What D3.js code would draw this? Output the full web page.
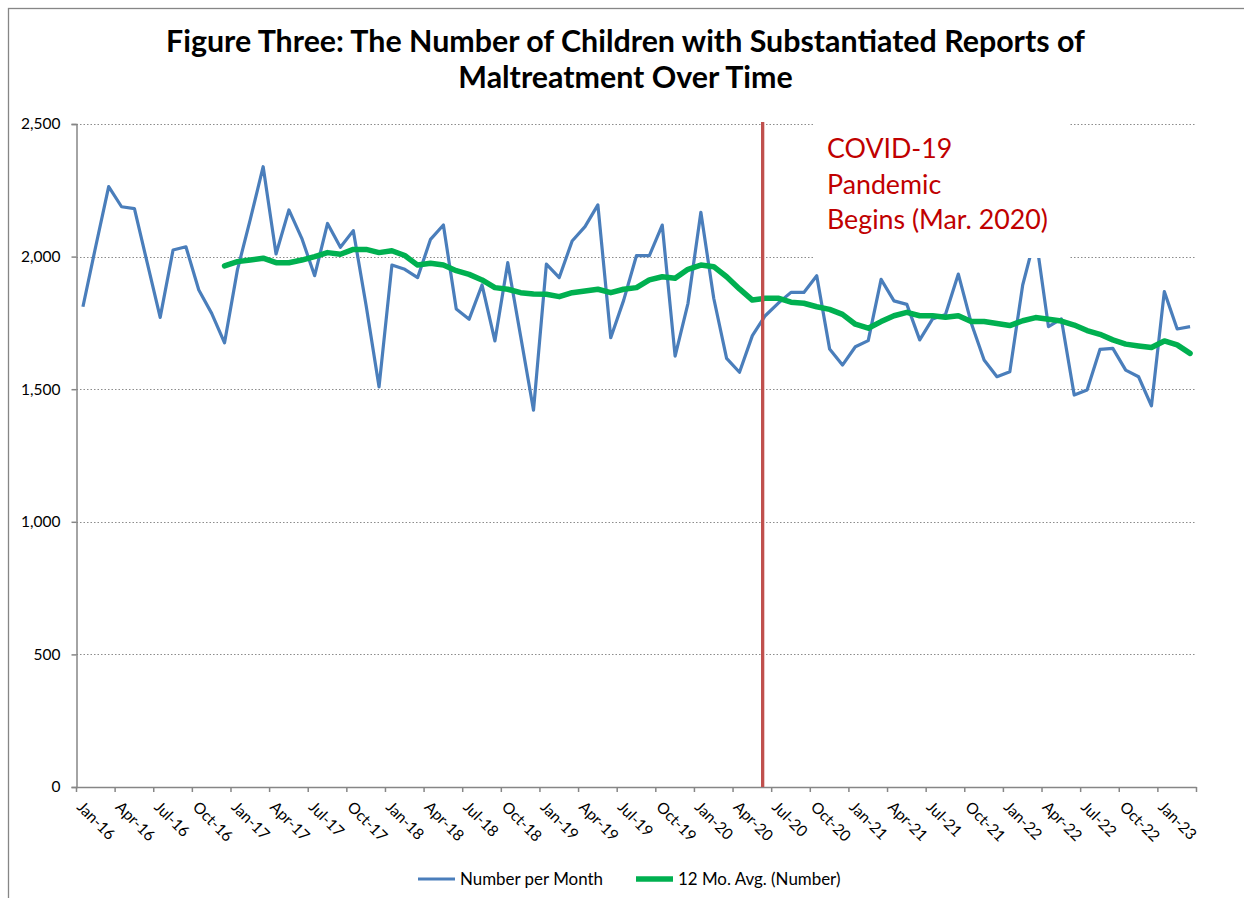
<!DOCTYPE html>
<html>
<head>
<meta charset="utf-8">
<script src="https://cdn.jsdelivr.net/npm/d3@7/dist/d3.min.js"></script>
<style>
  html, body { margin: 0; padding: 0; background: #fff; }
  svg { display: block; }
  text { font-family: "Lato", "Open Sans", "Noto Sans", sans-serif; }
</style>
</head>
<body>
<svg id="chart" width="1244" height="898"></svg>
<script>
// ---------------- data ----------------
const months = [
  "Jan-16","Feb-16","Mar-16","Apr-16","May-16","Jun-16","Jul-16","Aug-16","Sep-16","Oct-16","Nov-16","Dec-16",
  "Jan-17","Feb-17","Mar-17","Apr-17","May-17","Jun-17","Jul-17","Aug-17","Sep-17","Oct-17","Nov-17","Dec-17",
  "Jan-18","Feb-18","Mar-18","Apr-18","May-18","Jun-18","Jul-18","Aug-18","Sep-18","Oct-18","Nov-18","Dec-18",
  "Jan-19","Feb-19","Mar-19","Apr-19","May-19","Jun-19","Jul-19","Aug-19","Sep-19","Oct-19","Nov-19","Dec-19",
  "Jan-20","Feb-20","Mar-20","Apr-20","May-20","Jun-20","Jul-20","Aug-20","Sep-20","Oct-20","Nov-20","Dec-20",
  "Jan-21","Feb-21","Mar-21","Apr-21","May-21","Jun-21","Jul-21","Aug-21","Sep-21","Oct-21","Nov-21","Dec-21",
  "Jan-22","Feb-22","Mar-22","Apr-22","May-22","Jun-22","Jul-22","Aug-22","Sep-22","Oct-22","Nov-22","Dec-22",
  "Jan-23","Feb-23","Mar-23"
];

const numberPerMonth = [
  1811, 2040, 2264, 2188, 2181, 1975, 1771, 2025, 2037, 1874, 1786, 1675,
  1950, 2140, 2339, 2010, 2176, 2069, 1928, 2125, 2035, 2098, 1815, 1509,
  1968, 1952, 1921, 2065, 2119, 1802, 1764, 1893, 1682, 1977, 1700, 1421,
  1972, 1921, 2059, 2113, 2195, 1694, 1835, 2004, 2004, 2119, 1625, 1824,
  2167, 1843, 1616, 1564, 1702, 1777, 1824, 1865, 1865, 1928, 1652, 1591,
  1660, 1683, 1914, 1833, 1820, 1686, 1765, 1782, 1934, 1750, 1610, 1547,
  1566, 1893, 2080, 1736, 1765, 1478, 1497, 1650, 1654, 1572, 1547, 1437,
  1868, 1727, 1736
];

// 12-month average (first value available for Dec-16)
const twelveMoAvg = [
  null, null, null, null, null, null, null, null, null, null, null, 1965,
  1981, 1987, 1994, 1977, 1977, 1987, 2000, 2015, 2009, 2027, 2027, 2015,
  2022, 2004, 1968, 1975, 1968, 1947, 1933, 1912, 1883, 1877, 1864, 1859,
  1858, 1849, 1864, 1870, 1877, 1864, 1877, 1883, 1912, 1924, 1918, 1952,
  1968, 1962, 1924, 1878, 1836, 1843, 1843, 1828, 1824, 1811, 1801, 1782,
  1745, 1730, 1755, 1777, 1790, 1777, 1777, 1771, 1777, 1755, 1755, 1748,
  1740, 1758, 1770, 1764, 1757, 1742, 1721, 1707, 1686, 1670, 1663, 1657,
  1682, 1667, 1635
];

const yTicks = [0, 500, 1000, 1500, 2000, 2500];
const titleLines = ["Figure Three: The Number of Children with Substantiated Reports of", "Maltreatment Over Time"];
const annotationLines = ["COVID-19", "Pandemic", "Begins (Mar. 2020)"];
const seriesNames = ["Number per Month", "12 Mo. Avg. (Number)"];
const covidMarkerBand = 53.3; // position in category-band units

// ---------------- layout ----------------
const svg = d3.select("#chart");
const W = 1244, H = 898;
const plot = { left: 76.5, right: 1196.5, top: 124, bottom: 787 };
const axisColor = "#868686";
const blue = "#4A7EBB", green = "#00B050", red = "#C0504D", annoRed = "#C00000";

svg.append("rect").attr("width", W).attr("height", H).attr("fill", "#fff");
// chart outer frame
svg.append("rect").attr("x", 8.5).attr("y", 8.5).attr("width", W + 20).attr("height", H + 20)
  .attr("fill", "none").attr("stroke", axisColor).attr("stroke-width", 1.3);

const x = d3.scaleBand().domain(months).range([plot.left, plot.right]).padding(0);
const bw = x.bandwidth();
const cx = m => x(m) + bw / 2;
const y = d3.scaleLinear().domain([0, 2500]).range([plot.bottom, plot.top]);

function fitText(sel, targetW) {
  const node = sel.node();
  const fs = parseFloat(sel.attr("font-size"));
  const w = node.getComputedTextLength();
  if (w > 0) sel.attr("font-size", (fs * targetW / w).toFixed(2));
}

// gridlines
svg.append("g").selectAll("line").data(yTicks.filter(d => d > 0)).join("line")
  .attr("x1", plot.left).attr("x2", plot.right)
  .attr("y1", d => Math.round(y(d)) + 0.5).attr("y2", d => Math.round(y(d)) + 0.5)
  .attr("stroke", "#8c8c8c").attr("stroke-width", 1.2).attr("stroke-dasharray", "1.5,2");

// y axis
const yAxis = d3.axisLeft(y).tickValues(yTicks).tickSize(5).tickPadding(11)
  .tickFormat(d3.format(","));
const gy = svg.append("g").attr("transform", `translate(${plot.left},0)`).call(yAxis);
gy.select(".domain").attr("stroke", axisColor).attr("stroke-width", 1.5);
gy.selectAll(".tick line").attr("stroke", axisColor).attr("stroke-width", 1.5);
gy.selectAll(".tick text").attr("font-size", 15.5).attr("fill", "#000")
  .style("font-family", "Lato, sans-serif");

// x axis: ticks at category boundaries every 3 months
const tickIdx = d3.range(0, months.length + 1, 3);
const gx = svg.append("g");
gx.append("line").attr("x1", plot.left).attr("x2", plot.right)
  .attr("y1", plot.bottom + 0.5).attr("y2", plot.bottom + 0.5)
  .attr("stroke", axisColor).attr("stroke-width", 1.5);
gx.selectAll("line.tk").data(tickIdx).join("line").attr("class", "tk")
  .attr("x1", i => plot.left + i * bw).attr("x2", i => plot.left + i * bw)
  .attr("y1", plot.bottom).attr("y2", plot.bottom + 5)
  .attr("stroke", axisColor).attr("stroke-width", 1.5);
const labelMonths = months.filter((m, i) => i % 3 === 0);
gx.selectAll("text").data(labelMonths).join("text")
  .attr("transform", m => `translate(${cx(m) - 7},${plot.bottom + 21}) rotate(45)`)
  .attr("font-size", 15.5).attr("fill", "#000").text(m => m);

// lines
const lineGen = d3.line().defined(d => d.v != null).x(d => cx(d.m)).y(d => y(d.v));
svg.append("path")
  .datum(months.map((m, i) => ({ m, v: numberPerMonth[i] })))
  .attr("d", lineGen).attr("fill", "none").attr("stroke", blue)
  .attr("stroke-width", 3.2).attr("stroke-linejoin", "round");
svg.append("path")
  .datum(months.map((m, i) => ({ m, v: twelveMoAvg[i] })))
  .attr("d", lineGen).attr("fill", "none").attr("stroke", green)
  .attr("stroke-width", 5.5).attr("stroke-linejoin", "round").attr("stroke-linecap", "round");

// COVID marker line
const markerX = plot.left + covidMarkerBand * bw;
svg.append("line").attr("x1", markerX).attr("x2", markerX)
  .attr("y1", plot.top - 2).attr("y2", plot.bottom)
  .attr("stroke", red).attr("stroke-width", 3.3);

// annotation box (white) and text
svg.append("rect").attr("x", 813).attr("y", 116).attr("width", 257).attr("height", 142).attr("fill", "#fff");

const anno = svg.append("g");
const annoFs = 28;
const annoTexts = annotationLines.map((t, i) => anno.append("text")
  .attr("x", 827).attr("y", 158 + i * 35.5)
  .attr("font-size", annoFs).attr("fill", annoRed).text(t));
{
  const last = annoTexts[2];
  const w = last.node().getComputedTextLength();
  const fs = annoFs * 221 / w;
  annoTexts.forEach(t => t.attr("font-size", fs.toFixed(2)));
}

// title
const t1 = svg.append("text").attr("x", 625.5).attr("y", 52).attr("text-anchor", "middle")
  .attr("font-size", 26).attr("font-weight", "bold").attr("fill", "#000").text(titleLines[0]);
fitText(t1, 919);
const t2 = svg.append("text").attr("x", 625.5).attr("y", 88).attr("text-anchor", "middle")
  .attr("font-size", t1.attr("font-size")).attr("font-weight", "bold").attr("fill", "#000").text(titleLines[1]);

// legend
const legend = svg.append("g");
const legItems = [
  { name: seriesNames[0], color: blue, w: 3.2, x0: 418, tw: 143 },
  { name: seriesNames[1], color: green, w: 5.5, x0: 636, tw: 162 }
];
let legFs = null;
legItems.forEach((it, i) => {
  legend.append("line").attr("x1", it.x0).attr("x2", it.x0 + 37)
    .attr("y1", 879).attr("y2", 879).attr("stroke", it.color).attr("stroke-width", it.w);
  const t = legend.append("text").attr("x", it.x0 + 42).attr("y", 884.5)
    .attr("font-size", 14.5).attr("fill", "#000").text(it.name);
  if (i === 0) { fitText(t, it.tw); legFs = t.attr("font-size"); }
  else t.attr("font-size", legFs);
});
</script>
</body>
</html>
